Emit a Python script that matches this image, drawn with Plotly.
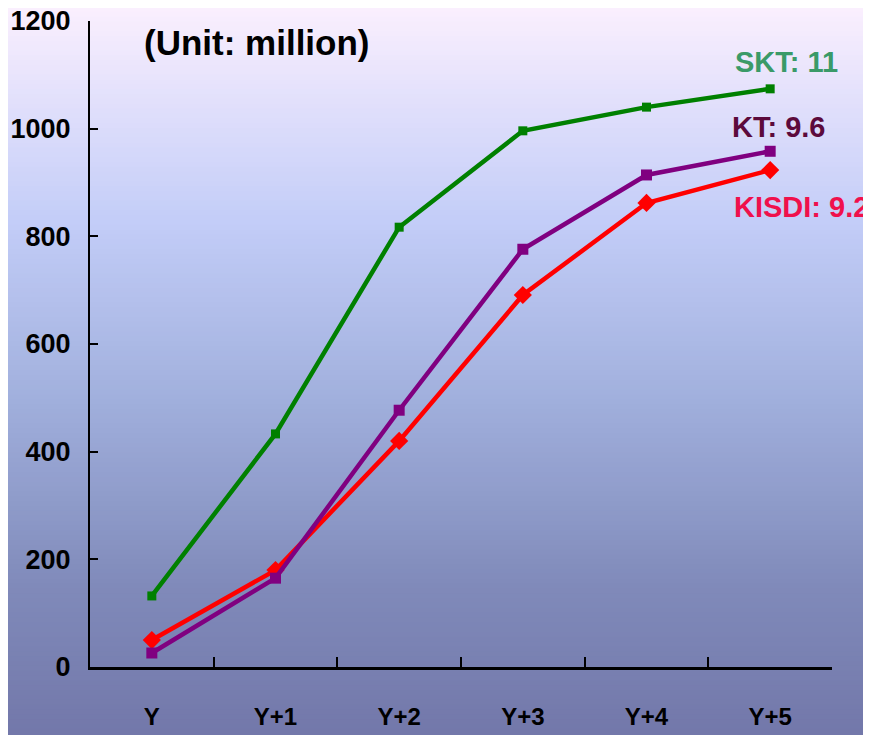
import plotly.graph_objects as go

categories = ["Y", "Y+1", "Y+2", "Y+3", "Y+4", "Y+5"]
skt = [132, 433, 817, 996, 1040, 1074]
kt = [26, 165, 477, 776, 914, 958]
kisdi = [50, 180, 420, 691, 862, 923]
y_ticks = [0, 200, 400, 600, 800, 1000, 1200]

FONT = "Liberation Sans, Arial, sans-serif"

fig = go.Figure()
fig.add_trace(go.Scatter(x=categories, y=skt, mode="lines+markers", name="SKT",
                         line=dict(color="#008000", width=4.5),
                         marker=dict(symbol="square", size=9, color="#008000")))
fig.add_trace(go.Scatter(x=categories, y=kisdi, mode="lines+markers", name="KISDI",
                         line=dict(color="#ff0000", width=4.5),
                         marker=dict(symbol="diamond", size=14, color="#ff0000")))
fig.add_trace(go.Scatter(x=categories, y=kt, mode="lines+markers", name="KT",
                         line=dict(color="#800080", width=4.5),
                         marker=dict(symbol="square", size=11, color="#800080")))

# background gradient (page-wide, drawn as thin bands in paper coordinates)
stops = [(0.0, (252, 240, 254)), (0.3, (195, 205, 248)), (0.55, (160, 175, 220)),
         (0.8, (128, 138, 186)), (1.0, (115, 120, 170))]
def col(t):
    for i in range(len(stops) - 1):
        t0, c0 = stops[i]
        t1, c1 = stops[i + 1]
        if t0 <= t <= t1:
            f = (t - t0) / (t1 - t0)
            return "rgb(%d,%d,%d)" % tuple(round(c0[k] + (c1[k] - c0[k]) * f) for k in range(3))
    return "rgb(115,120,170)"

# page body has an 8px margin, so the figure is 8px smaller and shifted
W, H = 863, 727
ML, MR, MT, MB = 82, 39, 13, 68
plot_h = H - MT - MB
N = 150
shapes = []
for i in range(N):
    t = (i + 8 * N / 735) / (N - 1 + 8 * N / 735)
    p1 = H - i * H / N
    p0 = H - (i + 1) * H / N
    y1 = (p1 - MB) / plot_h
    y0 = (p0 - MB) / plot_h
    shapes.append(dict(type="rect", xref="paper", yref="paper", x0=-0.3, x1=1.2,
                       y0=y0 - 0.002, y1=y1 + 0.002, fillcolor=col(t),
                       line=dict(width=0), layer="below"))

fig.update_layout(
    width=W, height=H,
    margin=dict(l=ML, r=MR, t=MT, b=MB, autoexpand=False),
    paper_bgcolor="rgb(160,170,215)",
    plot_bgcolor="rgba(0,0,0,0)",
    showlegend=False,
    shapes=shapes,
    font=dict(family=FONT, color="black"),
    xaxis=dict(type="category", range=[-0.5, 5.5], tickson="boundaries",
               ticks="inside", ticklen=10, tickcolor="black", tickwidth=1.5,
               showline=True, linecolor="black", linewidth=3, showgrid=False,
               zeroline=False, ticklabelstandoff=26, automargin=False,
               ticklabeloverflow="allow",
               tickfont=dict(family=FONT, size=24, color="black", weight="bold")),
    yaxis=dict(range=[0, 1200], tickvals=y_ticks, ticks="inside", ticklen=8,
               tickcolor="black", tickwidth=1.5, showline=True, linecolor="black",
               linewidth=2, showgrid=False, zeroline=False, ticklabelstandoff=12,
               automargin=False, ticklabeloverflow="allow",
               tickfont=dict(family=FONT, size=27, color="black", weight="bold")),
    annotations=[
        dict(text="(Unit: million)", xref="paper", yref="paper", x=0.07, y=1.0,
             xanchor="left", yanchor="top", showarrow=False,
             font=dict(family=FONT, size=35, color="black", weight="bold")),
        dict(text="SKT: 11", xref="paper", yref="paper", x=0.8666, y=0.9365,
             xanchor="left", yanchor="middle", showarrow=False,
             font=dict(family=FONT, size=29, color="#3a9a68", weight="bold")),
        dict(text="KT: 9.6", xref="paper", yref="paper", x=0.8625, y=0.836,
             xanchor="left", yanchor="middle", showarrow=False,
             font=dict(family=FONT, size=29, color="#5c0a3c", weight="bold")),
        dict(text="KISDI: 9.2", xref="paper", yref="paper", x=0.865, y=0.712,
             xanchor="left", yanchor="middle", showarrow=False,
             font=dict(family=FONT, size=29, color="#f0104c", weight="bold")),
    ],
)
fig.write_html("out.html")
